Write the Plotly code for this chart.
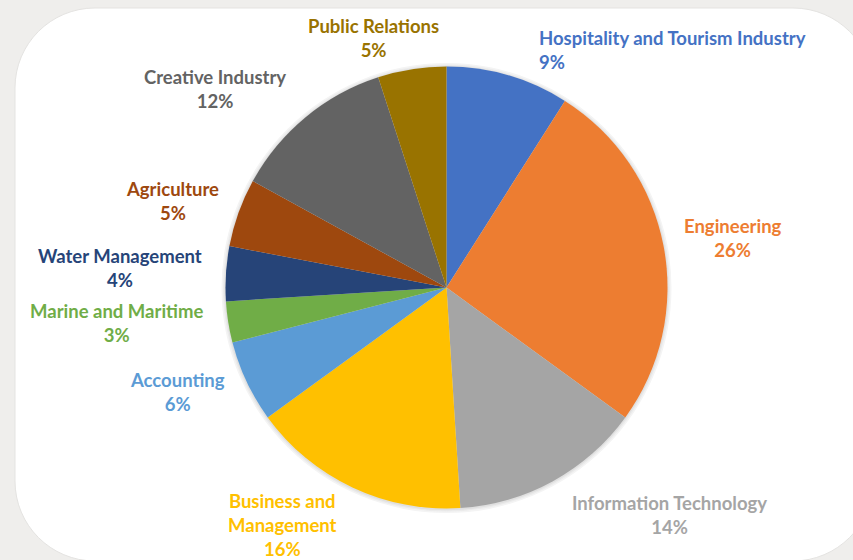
import plotly.graph_objects as go

# ---- data ----
categories = ["Hospitality and Tourism Industry", "Engineering", "Information Technology",
              "Business and Management", "Accounting", "Marine and Maritime",
              "Water Management", "Agriculture", "Creative Industry", "Public Relations"]
values = [9, 26, 14, 16, 6, 3, 4, 5, 12, 5]
display_labels = ["Hospitality and Tourism Industry", "Engineering", "Information Technology",
                  "Business and<br>Management", "Accounting", "Marine and Maritime",
                  "Water Management", "Agriculture", "Creative Industry", "Public Relations"]

# ---- style ----
colors = ["#4472C4", "#ED7D31", "#A5A5A5", "#FFC000", "#5B9BD5", "#70AD47",
          "#264478", "#9E480E", "#636363", "#997300"]
W, H = 853, 560
# label anchor positions (pixels) and horizontal anchors
label_pos = [(537, 50, "left"), (733, 238, "center"), (669, 515, "center"),
             (282, 525, "center"), (177, 392, "center"), (116, 323, "center"),
             (120, 268, "center"), (172, 201, "center"), (215, 89, "center"),
             (373, 38, "center")]

def px(x):
    return x / W

def py(y):
    return 1 - y / H

cx, cy, r = 446.5, 287.5, 221

fig = go.Figure(go.Pie(
    labels=categories, values=values, sort=False, direction="clockwise", rotation=0,
    marker=dict(colors=colors, line=dict(width=0)),
    textinfo="none", hoverinfo="label+percent", showlegend=False,
    domain=dict(x=[px(cx - r), px(cx + r)], y=[py(cy + r), py(cy - r)]),
))

total = sum(values)
annotations = []
for lab, v, col, (x, y, anc) in zip(display_labels, values, colors, label_pos):
    annotations.append(dict(
        x=px(x), y=py(y), xref="paper", yref="paper",
        text=f"{lab}<br>{round(v / total * 100)}%",
        showarrow=False, xanchor=anc, yanchor="middle", align=anc,
        font=dict(family="Lato", size=18.5, color=col, weight="bold"),
    ))

# rounded white panel
L, T, R_, B, rad = 15, 8, 873, 561, 80
k = 0.5523 * rad
def P(x, y):
    return f"{px(x):.5f},{py(y):.5f}"
path = (f"M {P(L + rad, T)} L {P(R_ - rad, T)} "
        f"C {P(R_ - rad + k, T)} {P(R_, T + rad - k)} {P(R_, T + rad)} "
        f"L {P(R_, B - rad)} "
        f"C {P(R_, B - rad + k)} {P(R_ - rad + k, B)} {P(R_ - rad, B)} "
        f"L {P(L + rad, B)} "
        f"C {P(L + rad - k, B)} {P(L, B - rad + k)} {P(L, B - rad)} "
        f"L {P(L, T + rad)} "
        f"C {P(L, T + rad - k)} {P(L + rad - k, T)} {P(L + rad, T)} Z")

shapes = [dict(type="path", path=path, xref="paper", yref="paper",
               fillcolor="white", line=dict(color="#E4E3E1", width=1), layer="below")]
# soft shadow halo around the pie
for d, c in [(4, "#F4F4F4"), (2.5, "#EBEBEB"), (1.2, "#E0E0E0")]:
    shapes.append(dict(type="circle", xref="paper", yref="paper",
                       x0=px(cx - r - d), x1=px(cx + r + d),
                       y0=py(cy + r + d + 0.5), y1=py(cy - r - d + 0.5),
                       fillcolor=c, line=dict(width=0), layer="below"))

fig.update_layout(
    width=W, height=H, margin=dict(l=0, r=0, t=0, b=0),
    paper_bgcolor="#EFEEEC", plot_bgcolor="#EFEEEC",
    annotations=annotations, shapes=shapes,
)

fig.write_html("out.html", config={"displayModeBar": False},
               post_script="document.body.style.margin='0';document.body.style.background='#EFEEEC';")
